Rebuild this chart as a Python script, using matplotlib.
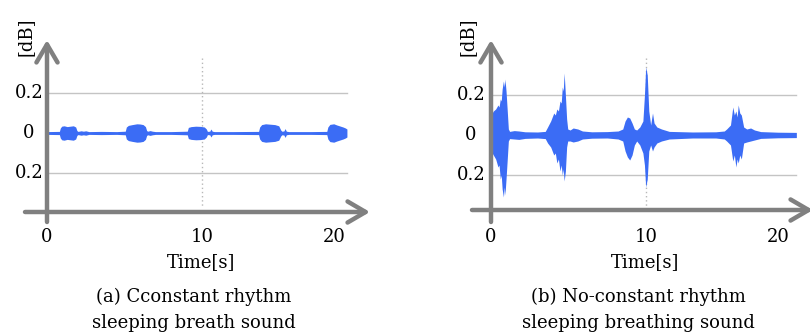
import matplotlib
matplotlib.use('Agg')
import matplotlib.pyplot as plt

# (a) constant rhythm: symmetric envelope of the waveform
t_a = [0.0, 0.8, 0.86, 0.95, 1.1, 1.3, 1.5, 1.7, 1.85, 1.93, 2.0, 2.2, 2.35,
       2.5, 2.7, 3.5, 4.5, 5.05, 5.12, 5.25, 5.5, 5.8, 6.0, 6.2, 6.35, 6.43,
       6.5, 6.65, 6.8, 7.0, 8.0, 9.05, 9.12, 9.3, 9.6, 9.9, 10.15, 10.28,
       10.35, 10.5, 10.58, 10.66, 10.8, 12.0, 13.65, 13.72, 13.85, 14.1, 14.4,
       14.7, 14.95, 15.08, 15.15, 15.28, 15.36, 15.44, 15.6, 17.0, 18.05,
       18.12, 18.25, 18.5, 18.7, 18.9, 19.1, 19.25, 19.35]
amp_a = [0.007, 0.008, 0.025, 0.034, 0.036, 0.032, 0.034, 0.036, 0.03, 0.012,
         0.008, 0.011, 0.009, 0.011, 0.007, 0.008, 0.007, 0.009, 0.03, 0.038,
         0.042, 0.046, 0.045, 0.042, 0.032, 0.012, 0.009, 0.012, 0.009, 0.007,
         0.007, 0.009, 0.028, 0.032, 0.034, 0.033, 0.03, 0.02, 0.008, 0.009,
         0.02, 0.009, 0.007, 0.007, 0.008, 0.03, 0.042, 0.046, 0.044, 0.042,
         0.036, 0.015, 0.009, 0.01, 0.022, 0.009, 0.007, 0.007, 0.008, 0.03,
         0.043, 0.046, 0.04, 0.035, 0.03, 0.025, 0.02]

# (b) no-constant rhythm: upper / lower envelope
t_b = [0.0, 0.15, 0.3, 0.45, 0.52, 0.6, 0.66, 0.72, 0.8, 0.86, 0.9, 0.97,
       1.05, 1.12, 1.2, 1.5, 1.8, 2.2, 3.0, 3.5, 3.65, 3.85, 4.05, 4.15, 4.25,
       4.35, 4.45, 4.53, 4.6, 4.66, 4.72, 4.8, 4.88, 4.95, 5.1, 5.3, 5.6, 5.9,
       6.5, 7.5, 8.2, 8.5, 8.65, 8.8, 8.95, 9.1, 9.25, 9.4, 9.6, 9.8, 9.9,
       9.98, 10.08, 10.18, 10.3, 10.42, 10.52, 10.7, 11.0, 11.5, 13.0, 14.5,
       15.05, 15.2, 15.45, 15.6, 15.7, 15.8, 15.88, 15.95, 16.05, 16.15, 16.3,
       16.5, 16.75, 17.0, 17.4, 18.5, 19.7]
up_b = [0.10, 0.12, 0.13, 0.15, 0.14, 0.18, 0.17, 0.23, 0.27, 0.24, 0.28,
        0.22, 0.12, 0.03, 0.018, 0.022, 0.02, 0.016, 0.015, 0.018, 0.04, 0.07,
        0.11, 0.10, 0.13, 0.12, 0.17, 0.16, 0.24, 0.22, 0.31, 0.2, 0.08, 0.03,
        0.025, 0.035, 0.03, 0.02, 0.016, 0.017, 0.02, 0.03, 0.07, 0.09, 0.085,
        0.06, 0.03, 0.025, 0.04, 0.07, 0.2, 0.34, 0.3, 0.12, 0.05, 0.11, 0.06,
        0.04, 0.03, 0.018, 0.015, 0.016, 0.02, 0.03, 0.05, 0.14, 0.10, 0.12,
        0.09, 0.15, 0.11, 0.1, 0.04, 0.03, 0.035, 0.025, 0.017, 0.014, 0.013]
lo_b = [-0.08, -0.10, -0.12, -0.16, -0.15, -0.22, -0.20, -0.27, -0.31, -0.26,
        -0.30, -0.22, -0.12, -0.03, -0.018, -0.02, -0.022, -0.017, -0.015,
        -0.018, -0.04, -0.06, -0.10, -0.09, -0.14, -0.12, -0.18, -0.15, -0.20,
        -0.17, -0.23, -0.18, -0.06, -0.03, -0.03, -0.035, -0.03, -0.02,
        -0.016, -0.015, -0.02, -0.03, -0.08, -0.11, -0.125, -0.10, -0.05,
        -0.03, -0.05, -0.09, -0.15, -0.26, -0.22, -0.08, -0.05, -0.08, -0.06,
        -0.04, -0.03, -0.02, -0.015, -0.015, -0.02, -0.03, -0.05, -0.13,
        -0.10, -0.16, -0.12, -0.14, -0.10, -0.12, -0.04, -0.035, -0.03,
        -0.025, -0.017, -0.014, -0.013]

x_ticks = [0, 10, 18.55]
x_tick_labels = ['0', '10', '20']
y_ticks = [0.2, 0, -0.2]
y_tick_labels = ['0.2', '0', '0.2']
captions = [['(a) Cconstant rhythm', 'sleeping breath sound'],
            ['(b) No-constant rhythm', 'sleeping breathing sound']]

W, H = 810, 336
PX_S = 15.5      # pixels per second
PX_U = 200.0     # pixels per unit of amplitude
WAVE = '#3b6cf5'
AXIS = '#808080'
GRID = '#c4c4c4'
FS = 13

plt.rcParams['font.family'] = ['DejaVu Serif']
fig = plt.figure(figsize=(W / 100, H / 100), dpi=100)


def make_panel(left, right, x0, y0):
    """ axes covering pixels [left, right] x [0, 250], origin at (x0, y0) """
    top, bottom = 0, 250
    ax = fig.add_axes([left / W, 1 - bottom / H, (right - left) / W,
                       (bottom - top) / H])
    ax.set_xlim((left - x0) / PX_S, (right - x0) / PX_S)
    ax.set_ylim((y0 - bottom) / PX_U, (y0 - top) / PX_U)
    ax.axis('off')
    px = lambda x: (x - x0) / PX_S
    py = lambda y: (y0 - y) / PX_U
    return ax, px, py


def draw_frame(ax, px, py, x_axis, y_axis, grid_end):
    for v in (0.2, -0.2):
        ax.plot([0, px(grid_end)], [v, v], color=GRID, lw=1, zorder=1)
    ax.plot([10, 10], [py(58), py(208)], color='#b8b8b8', lw=1,
            ls=(0, (1, 2)), zorder=1)
    arrow = dict(arrowstyle='->, head_length=0.65, head_width=0.38',
                 mutation_scale=20, lw=3.2, color=AXIS, shrinkA=0, shrinkB=0)
    ax.annotate('', xy=(px(x_axis[2]), py(x_axis[0])),
                xytext=(px(x_axis[1]), py(x_axis[0])),
                arrowprops=arrow, annotation_clip=False, zorder=3)
    ax.annotate('', xy=(0, py(y_axis[1])), xytext=(0, py(y_axis[0])),
                arrowprops=arrow, annotation_clip=False, zorder=3)


def draw_text(ax, px, py, ylab_x, cx, cap):
    for pos, lab in zip(x_ticks, x_tick_labels):
        ax.text(pos, py(237), lab, ha='center', va='center', fontsize=FS)
    for pos, lab in zip(y_ticks, y_tick_labels):
        ax.text(px(ylab_x), pos, lab, ha='center', va='center', fontsize=FS)
    ax.text(px(ylab_x - 3), py(37), '[dB]', rotation=90, ha='center',
            va='center', fontsize=FS)
    fig.text(cx / W, 1 - 262 / H, 'Time[s]', ha='center', va='center',
             fontsize=FS)
    fig.text((cx - 7) / W, 1 - 297 / H, cap[0], ha='center', va='center',
             fontsize=FS)
    fig.text((cx - 7) / W, 1 - 323 / H, cap[1], ha='center', va='center',
             fontsize=FS)


# (a)
ax1, px1, py1 = make_panel(0, 405, 47, 133)
draw_frame(ax1, px1, py1, (212, 25, 370), (222, 40), 347)
ax1.fill_between(t_a, [-a for a in amp_a], amp_a, color=WAVE, lw=0,
                 zorder=2)
draw_text(ax1, px1, py1, 29, 201, captions[0])

# (b)
ax2, px2, py2 = make_panel(405, 810, 491, 135)
draw_frame(ax2, px2, py2, (210, 472, 813), (222, 40), 796)
ax2.fill_between(t_b, lo_b, up_b, color=WAVE, lw=0, zorder=2)
draw_text(ax2, px2, py2, 471, 645, captions[1])

fig.savefig('out.png', dpi=100)
